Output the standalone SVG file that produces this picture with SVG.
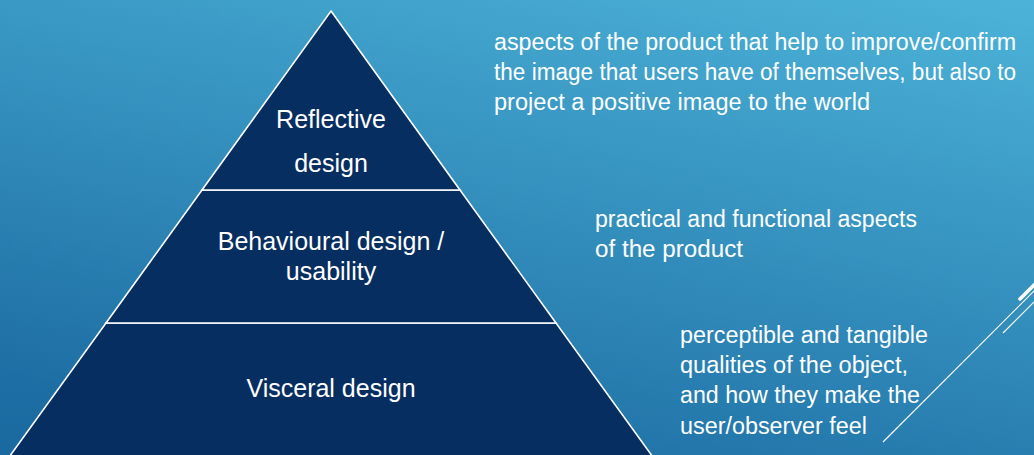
<svg xmlns="http://www.w3.org/2000/svg" width="1034" height="455" viewBox="0 0 1034 455">
  <defs>
    <linearGradient id="bg" x1="1034" y1="0" x2="700" y2="700" gradientUnits="userSpaceOnUse">
      <stop offset="0" stop-color="#52badd"/>
      <stop offset="1" stop-color="#1a69a0"/>
    </linearGradient>
    <linearGradient id="bg2" x1="0" y1="0" x2="0" y2="455" gradientUnits="userSpaceOnUse">
      <stop offset="0" stop-color="#46abd2" stop-opacity="1"/>
      <stop offset="1" stop-color="#1a6aa1" stop-opacity="1"/>
    </linearGradient>
  </defs>
  <style>
    .layer { fill: #062e60; stroke: #ffffff; stroke-width: 1.6; stroke-linejoin: miter; }
    .lbl { font-family: "Liberation Sans", Arial, sans-serif; font-size: 25px; fill: #ffffff; text-anchor: middle; }
    .desc { font-family: "Liberation Sans", Arial, sans-serif; font-size: 23px; fill: #ffffff; }
    .deco { stroke: #ffffff; fill: none; }
  </style>
  <rect x="0" y="0" width="1034" height="455" fill="url(#bg2)"/>
  <rect x="0" y="0" width="1034" height="455" fill="url(#bg)" opacity="0.55"/>

  <g id="visceral">
    <polygon class="layer" points="106,323 556,323 663,471 -1,471"/>
    <text class="lbl" x="331" y="397">Visceral design</text>
  </g>
  <g id="behavioural">
    <polygon class="layer" points="202,190 460,190 556,323 106,323"/>
    <text class="lbl" x="331" y="250">Behavioural design /</text>
    <text class="lbl" x="331" y="280">usability</text>
  </g>
  <g id="reflective">
    <polygon class="layer" points="331,11 460,190 202,190"/>
    <text class="lbl" x="331" y="128">Reflective</text>
    <text class="lbl" x="331" y="172">design</text>
  </g>

  <g id="reflective-desc">
    <text class="desc" x="494" y="50" textLength="522" lengthAdjust="spacingAndGlyphs">aspects of the product that help to improve/confirm</text>
    <text class="desc" x="494" y="80" textLength="522" lengthAdjust="spacingAndGlyphs">the image that users have of themselves, but also to</text>
    <text class="desc" x="494" y="110" textLength="376" lengthAdjust="spacingAndGlyphs">project a positive image to the world</text>
  </g>
  <g id="behavioural-desc">
    <text class="desc" x="595" y="227" textLength="322" lengthAdjust="spacingAndGlyphs">practical and functional aspects</text>
    <text class="desc" x="595" y="257" textLength="148" lengthAdjust="spacingAndGlyphs">of the product</text>
  </g>
  <g id="visceral-desc">
    <text class="desc" x="680" y="343" textLength="248" lengthAdjust="spacingAndGlyphs">perceptible and tangible</text>
    <text class="desc" x="680" y="373" textLength="228" lengthAdjust="spacingAndGlyphs">qualities of the object,</text>
    <text class="desc" x="680" y="403" textLength="240" lengthAdjust="spacingAndGlyphs">and how they make the</text>
    <text class="desc" x="680" y="434" textLength="187" lengthAdjust="spacingAndGlyphs">user/observer feel</text>
  </g>

  <g id="connectors">
    <line class="deco" x1="883" y1="442" x2="1035" y2="290" stroke-width="1.2"/>
    <line class="deco" x1="1003" y1="333" x2="1035" y2="301" stroke-width="1.2"/>
    <line class="deco" x1="1020" y1="299" x2="1035" y2="284" stroke-width="3.5" stroke-linecap="round"/>
  </g>
</svg>
